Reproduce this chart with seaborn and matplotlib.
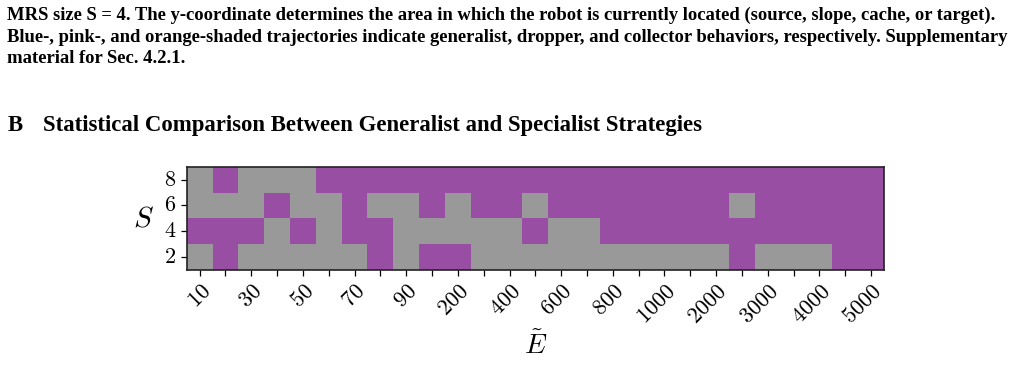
import numpy as np
import pandas as pd
import matplotlib
matplotlib.use("Agg")
import matplotlib.pyplot as plt
from matplotlib.colors import ListedColormap
import seaborn as sns

# ---- data ----
E_values = [10, 20, 30, 40, 50, 60, 70, 80, 90,
            100, 200, 300, 400, 500, 600, 700, 800, 900, 1000,
            1500, 2000, 2500, 3000, 3500, 4000, 4500, 5000]
S_values = [8, 6, 4, 2]
# 1 = purple, 0 = gray
row_S8 = [0, 1, 0, 0, 0, 1, 1, 1, 1, 1, 1, 1, 1, 1, 1, 1, 1, 1, 1, 1, 1, 1, 1, 1, 1, 1, 1]
row_S6 = [0, 0, 0, 1, 0, 0, 1, 0, 0, 1, 0, 1, 1, 0, 1, 1, 1, 1, 1, 1, 1, 0, 1, 1, 1, 1, 1]
row_S4 = [1, 1, 1, 0, 1, 0, 1, 1, 0, 0, 0, 0, 0, 1, 0, 0, 1, 1, 1, 1, 1, 1, 1, 1, 1, 1, 1]
row_S2 = [0, 1, 0, 0, 0, 0, 0, 1, 0, 1, 1, 0, 0, 0, 0, 0, 0, 0, 0, 0, 0, 1, 0, 0, 0, 1, 1]
x_labels = ["10", "", "30", "", "50", "", "70", "", "90",
            "", "200", "", "400", "", "600", "", "800", "", "1000",
            "", "2000", "", "3000", "", "4000", "", "5000"]

caption_lines = [
    "MRS size S = 4. The y-coordinate determines the area in which the robot is currently located (source, slope, cache, or target).",
    "Blue-, pink-, and orange-shaded trajectories indicate generalist, dropper, and collector behaviors, respectively. Supplementary",
    "material for Sec. 4.2.1.",
]
heading_num = "B"
heading = "Statistical Comparison Between Generalist and Specialist Strategies"

df = pd.DataFrame([row_S8, row_S6, row_S4, row_S2], index=S_values, columns=E_values)

plt.rcParams['mathtext.fontset'] = 'cm'
plt.rcParams['font.family'] = ['DejaVu Serif']

fig = plt.figure(figsize=(10.24, 3.85), dpi=100)
ax = fig.add_axes([0.1823, 0.2987, 0.8633 - 0.1823, 0.567 - 0.2987])

cmap = ListedColormap(["#999999", "#984ea3"])
sns.heatmap(df, ax=ax, cmap=cmap, cbar=False, vmin=0, vmax=1,
            xticklabels=[f"${l}$" if l else "" for l in x_labels],
            yticklabels=[f"${s}$" for s in S_values])

for sp in ax.spines.values():
    sp.set_visible(True)
    sp.set_linewidth(1.2)
    sp.set_color("#222222")

ax.tick_params(axis='both', length=4, width=0.9, labelsize=16)
plt.setp(ax.get_xticklabels(), rotation=45, ha='right', rotation_mode='anchor')
plt.setp(ax.get_yticklabels(), rotation=0)
ax.set_xlabel(r"$\tilde{E}$", fontsize=20, labelpad=2)
ax.set_ylabel(r"$S$", fontsize=21, rotation=0, labelpad=15, va='center')

cap_font = dict(family='Liberation Serif', weight='bold', fontsize=13.45, color='black')
ys = [19.5, 41.5, 63]
for y, t in zip(ys, caption_lines):
    fig.text(7 / 1024, 1 - y / 385, t, va='baseline', ha='left', **cap_font)
head_font = dict(family='Liberation Serif', weight='bold', fontsize=16.4, color='black')
fig.text(8 / 1024, 1 - 131 / 385, heading_num, va='baseline', ha='left', **head_font)
fig.text(43 / 1024, 1 - 131 / 385, heading, va='baseline', ha='left', **head_font)

fig.savefig("out.png", dpi=100)
